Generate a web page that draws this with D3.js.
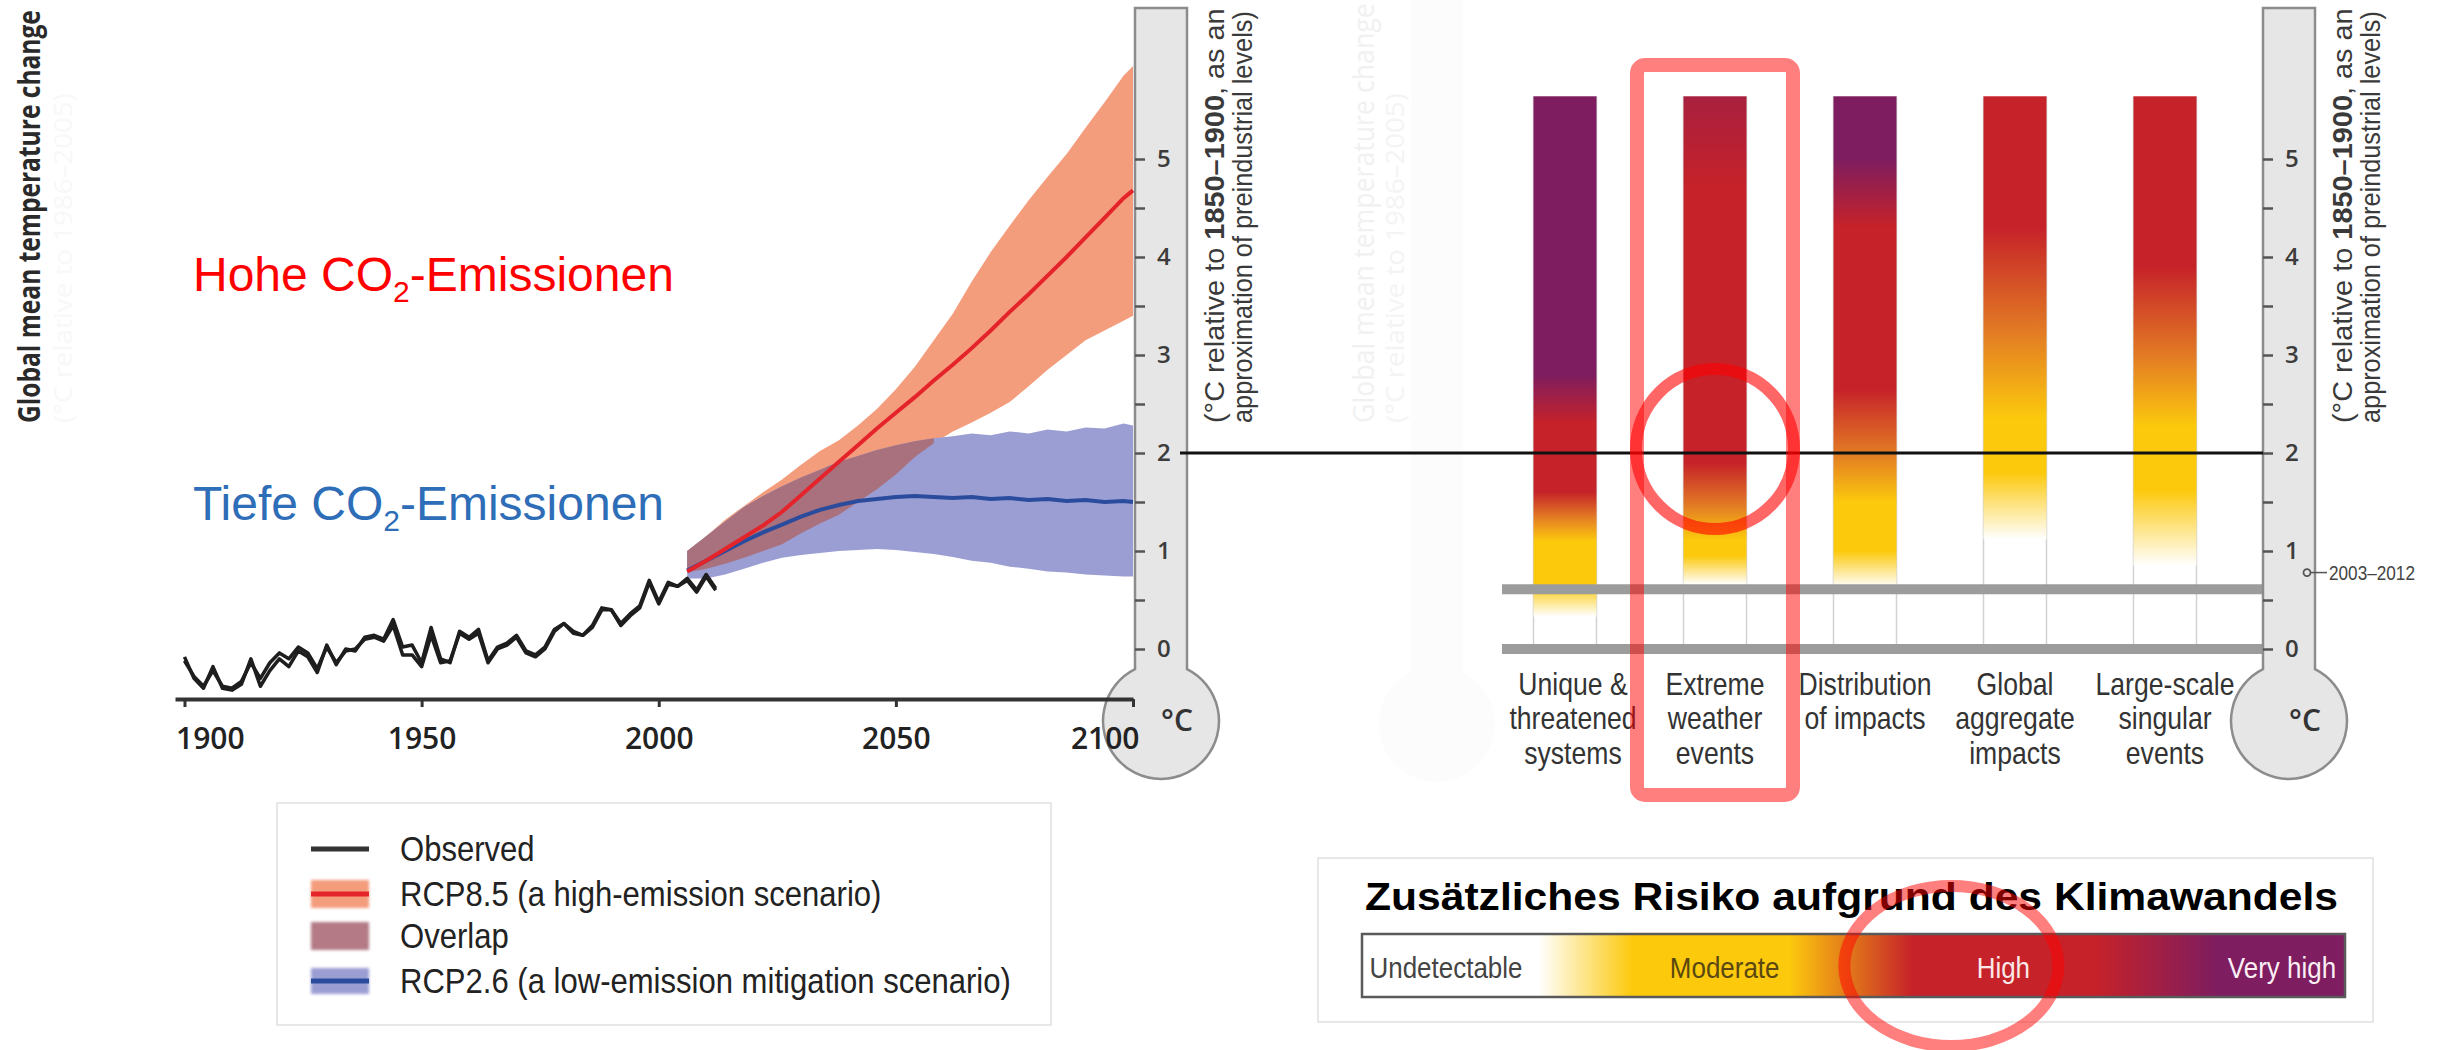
<!DOCTYPE html>
<html>
<head>
<meta charset="utf-8">
<script src="https://cdn.jsdelivr.net/npm/d3@7"></script>
<style>
  body { margin: 0; background: #fff; }
  .sans { font-family: "Liberation Sans", Arial, sans-serif; }
  .open { font-family: "Open Sans", "DejaVu Sans", sans-serif; }
</style>
</head>
<body>
<div class="chart"></div>
<script>
// observed global mean temperature (two data sets), °C relative to 1850-1900
const obsYears = [1900,1902,1904,1906,1908,1910,1912,1914,1916,1918,1920,1922,1924,1926,1928,1930,1932,1934,1936,1938,
  1940,1942,1944,1946,1948,1950,1952,1954,1956,1958,1960,1962,1964,1966,1968,1970,1972,1974,1976,1978,
  1980,1982,1984,1986,1988,1990,1992,1994,1996,1998,2000,2002,2004,2006,2008,2010,2012]
const observedA = [-0.08,-0.30,-0.40,-0.18,-0.40,-0.42,-0.36,-0.10,-0.38,-0.22,-0.10,-0.18,-0.02,-0.08,-0.24,0.04,-0.16,0.00,-0.02,0.12,
  0.14,0.10,0.30,0.02,0.04,-0.14,0.22,-0.10,-0.14,0.18,0.12,0.20,-0.12,0.02,0.06,0.14,-0.02,-0.06,0.02,0.20,
  0.26,0.18,0.14,0.24,0.42,0.40,0.26,0.36,0.44,0.70,0.48,0.68,0.64,0.72,0.60,0.76,0.62]
const observedB = [-0.12,-0.28,-0.38,-0.22,-0.38,-0.40,-0.33,-0.14,-0.30,-0.14,-0.04,-0.10,0.02,-0.04,-0.20,0.02,-0.14,-0.02,0.00,0.10,
  0.12,0.08,0.24,-0.06,-0.06,-0.18,0.14,-0.14,-0.12,0.16,0.10,0.16,-0.14,0.00,0.04,0.12,-0.04,-0.08,0.00,0.18,
  0.26,0.16,0.14,0.22,0.40,0.40,0.24,0.34,0.42,0.68,0.46,0.66,0.64,0.70,0.58,0.74,0.60]

// projections
const scenYears = [2006,2010,2014,2018,2022,2026,2030,2034,2038,2042,2046,2050,2054,2058,2062,2066,2070,2074,2078,2082,2086,2090,2094,2098,2100]
const rcp85Mean = [0.79,0.90,1.02,1.14,1.26,1.40,1.57,1.74,1.91,2.08,2.25,2.41,2.57,2.74,2.90,3.07,3.25,3.44,3.62,3.81,4.00,4.20,4.40,4.60,4.68]
const rcp85Low  = [0.78,0.82,0.87,0.93,1.00,1.07,1.18,1.28,1.37,1.50,1.63,1.78,1.96,2.10,2.22,2.31,2.41,2.52,2.68,2.85,3.00,3.15,3.25,3.35,3.40]
const rcp85High = [1.00,1.15,1.32,1.46,1.60,1.73,1.88,2.02,2.13,2.28,2.45,2.65,2.88,3.15,3.42,3.75,4.05,4.32,4.58,4.82,5.05,5.32,5.58,5.85,5.95]
const rcp26Mean = [0.80,0.90,1.00,1.10,1.19,1.27,1.35,1.42,1.47,1.51,1.53,1.55,1.56,1.55,1.54,1.55,1.53,1.54,1.52,1.53,1.51,1.52,1.50,1.51,1.50]
const rcp26Low  = [0.72,0.72,0.76,0.82,0.88,0.93,0.96,0.98,1.00,1.01,1.02,1.01,0.99,0.97,0.94,0.90,0.88,0.84,0.82,0.79,0.78,0.76,0.75,0.74,0.74]
const rcp26High = [1.00,1.15,1.30,1.45,1.56,1.66,1.75,1.83,1.91,1.97,2.03,2.08,2.12,2.15,2.17,2.20,2.18,2.22,2.20,2.24,2.22,2.26,2.25,2.30,2.28]

const yearTicks = [1900, 1950, 2000, 2050, 2100]
const tempTicks = [0, 0.5, 1, 1.5, 2, 2.5, 3, 3.5, 4, 4.5, 5]
const legendLabels = ["Observed", "RCP8.5 (a high-emission scenario)", "Overlap", "RCP2.6 (a low-emission mitigation scenario)"]

// reasons for concern: [temperature, risk level] stops, top to bottom
const reasons = ["Unique & threatened systems", "Extreme weather events", "Distribution of impacts", "Global aggregate impacts", "Large-scale singular events"]
const reasonLines = [["Unique &", "threatened", "systems"], ["Extreme", "weather", "events"], ["Distribution", "of impacts"], ["Global", "aggregate", "impacts"], ["Large-scale", "singular", "events"]]
const riskStops = [
  [[5.64,3],[2.8,3],[2.3,2],[1.6,2],[1.35,1.5],[1.1,1],[0.65,1],[0.33,0]],
  [[5.64,2.4],[4.7,2],[1.9,2],[1.47,1.5],[1.12,1],[0.95,1],[0.66,0]],
  [[5.64,3],[5.0,3],[4.3,2],[2.65,2],[2.0,1.5],[1.5,1],[1.0,1],[0.63,0]],
  [[5.64,2],[4.3,2],[3.25,1.5],[2.35,1],[1.8,1],[1.12,0]],
  [[5.64,2],[3.9,2],[3.0,1.5],[2.27,1],[1.62,1],[0.85,0]]
]
const riskLevels = ["Undetectable", "Moderate", "High", "Very high"]
const riskValues = [0, 1, 1.5, 2, 3]
const riskColors = ["#ffffff", "#fcc90d", "#e27a24", "#c62229", "#7e1d5f"]
const legendStops = [[0, 0], [0.18, 0], [0.275, 1], [0.435, 1], [0.56, 2], [0.745, 2], [0.87, 3], [1, 3]]

const baseLevels = [0, 0.61]
const recentWarming = 0.78
const targetLevel = 2

const width = 2440
const height = 1050

const svg = d3.select(".chart").append("svg")
  .attr("width", width)
  .attr("height", height)
  .style("display", "block")

const defs = svg.append("defs")
defs.append("filter").attr("id", "soft")
  .append("feGaussianBlur").attr("stdDeviation", 1.6)

const x = d3.scaleLinear().domain([1898, 2100]).range([175, 1133])
const y = d3.scaleLinear().domain([0, 5]).range([649, 159])
const band = d3.scaleBand().domain(reasons).range([1490, 2240]).paddingInner(0.58).paddingOuter(0.29)
const risk = d3.scaleLinear().domain(riskValues).range(riskColors)

// squeeze a text horizontally (no condensed font installed) so that a reference node gets the wanted width
function squeeze(sel, ref, want) {
  const k = want / ref.getComputedTextLength()
  sel.each(function () {
    const ax = +this.getAttribute("x") || 0
    d3.select(this).attr("transform", `translate(${ax},0) scale(${k},1) translate(${-ax},0)`)
  })
}

// rotated text reading upwards, starting at (px, py), squeezed to a length
function upText(px, py, str, size, weight, color, len) {
  const t = svg.append("g").attr("transform", `translate(${px},${py}) rotate(-90)`)
    .append("text").attr("class", "open").attr("x", 0).attr("y", 0)
    .attr("font-size", size).attr("font-weight", weight).attr("fill", color)
    .text(str)
  squeeze(t, t.node(), len)
}

function thermoPath(cx, top, half, r, cy) {
  const neck = cy - Math.sqrt(r * r - half * half)
  return `M${cx - half},${neck} L${cx - half},${top} L${cx + half},${top} L${cx + half},${neck} A${r},${r} 0 1 1 ${cx - half},${neck} Z`
}

// faint background ghosts of the original figures
svg.append("path").attr("d", thermoPath(1437, -10, 26, 58, 724)).attr("fill", "#fcfcfc")
upText(1374, 423, "Global mean temperature change", 30, 400, "#f1f1f1", 420)
upText(1404, 423, "(°C relative to 1986–2005)", 26, 400, "#f4f4f4", 330)
upText(72, 423, "(°C relative to 1986–2005)", 26, 400, "#f8f8f8", 330)

// ---------- left: projections ----------
const areaOf = (lo, hi) => d3.area()
  .x((d, i) => x(scenYears[i]))
  .y0((d, i) => y(lo[i]))
  .y1((d, i) => y(hi[i]))

svg.append("path").datum(scenYears).attr("fill", "#f49d7d").attr("d", areaOf(rcp85Low, rcp85High))
svg.append("path").datum(scenYears).attr("fill", "#9b9ed3").attr("d", areaOf(rcp26Low, rcp26High))

const ovLow = scenYears.map((d, i) => Math.max(rcp85Low[i], rcp26Low[i]))
const ovHigh = scenYears.map((d, i) => Math.min(rcp85High[i], rcp26High[i]))
svg.append("path").datum(scenYears).attr("fill", "#a8717d")
  .attr("d", areaOf(ovLow, ovHigh).defined((d, i) => ovLow[i] < ovHigh[i]))

const lineOf = vals => d3.line()
  .x((d, i) => x(scenYears[i]))
  .y((d, i) => y(vals[i]))

svg.append("path").datum(scenYears).attr("fill", "none").attr("stroke", "#2b4c9c").attr("stroke-width", 4)
  .attr("d", lineOf(rcp26Mean))
svg.append("path").datum(scenYears).attr("fill", "none").attr("stroke", "#e5232b").attr("stroke-width", 4)
  .attr("d", lineOf(rcp85Mean))

const obsLine = vals => d3.line()
  .x((d, i) => x(obsYears[i]))
  .y((d, i) => y(vals[i]))
svg.selectAll(".obs")
  .data([observedB, observedA])
  .enter()
  .append("path")
  .attr("class", "obs")
  .attr("fill", "none")
  .attr("stroke", "#1e1e1e")
  .attr("stroke-width", 3.5)
  .attr("stroke-linejoin", "round")
  .attr("d", d => obsLine(d)(obsYears))

// y axis title
upText(40, 423, "Global mean temperature change", 30, 700, "#2a2a2a", 413)

// scenario labels
function co2Label(text, color, baseY) {
  const t = svg.append("text").attr("class", "sans")
    .attr("x", 193).attr("y", baseY).attr("font-size", 48).attr("fill", color)
  t.append("tspan").text(text + " CO")
  t.append("tspan").attr("font-size", 30).attr("dy", 11).text("2")
  t.append("tspan").attr("dy", -11).text("-Emissionen")
}
co2Label("Hohe", "#ff0000", 291)
co2Label("Tiefe", "#2e6db7", 520)

// ---------- right: reasons for concern ----------
riskStops.forEach((stops, i) => {
  const top = stops[0][0]
  const bottom = stops[stops.length - 1][0]
  const grad = defs.append("linearGradient")
    .attr("id", "rfc" + i)
    .attr("gradientUnits", "userSpaceOnUse")
    .attr("x1", 0).attr("x2", 0)
    .attr("y1", y(top)).attr("y2", y(bottom))
  grad.selectAll("stop")
    .data(stops)
    .enter()
    .append("stop")
    .attr("offset", d => (y(d[0]) - y(top)) / (y(bottom) - y(top)))
    .attr("stop-color", d => risk(d[1]))
})

// thin guide lines at bar edges
svg.selectAll(".guide")
  .data(reasons.flatMap(r => [band(r), band(r) + band.bandwidth()]))
  .enter()
  .append("line")
  .attr("class", "guide")
  .attr("x1", d => d).attr("x2", d => d)
  .attr("y1", y(riskStops[0][0][0])).attr("y2", y(0))
  .attr("stroke", "#d2d2d2").attr("stroke-width", 1.5)

svg.selectAll(".rfc")
  .data(reasons)
  .enter()
  .append("rect")
  .attr("class", "rfc")
  .attr("x", d => band(d))
  .attr("width", band.bandwidth())
  .attr("y", (d, i) => y(riskStops[i][0][0]))
  .attr("height", (d, i) => y(riskStops[i][riskStops[i].length - 1][0]) - y(riskStops[i][0][0]))
  .attr("fill", (d, i) => `url(#rfc${i})`)

svg.selectAll(".base")
  .data(baseLevels)
  .enter()
  .append("line")
  .attr("class", "base")
  .attr("x1", 1502).attr("x2", 2263)
  .attr("y1", d => y(d)).attr("y2", d => y(d))
  .attr("stroke", "#9c9c9c").attr("stroke-width", 10)

const labels = svg.selectAll(".rfc-label")
  .data(reasons)
  .enter()
  .append("text")
  .attr("class", "sans rfc-label")
  .attr("x", (d, i) => band(d) + band.bandwidth() / 2 + (i === 0 ? 8 : 0))
  .attr("text-anchor", "middle")
  .attr("font-size", 32)
  .attr("fill", "#333")
labels.selectAll("tspan")
  .data((d, i) => reasonLines[i].map(l => ({ l, c: band(d) + band.bandwidth() / 2 + (i === 0 ? 8 : 0) })))
  .enter()
  .append("tspan")
  .attr("x", d => d.c)
  .attr("y", (d, j) => 695 + j * 34.5)
  .text(d => d.l)
squeeze(labels, labels.selectAll("tspan").filter(d => d.l === "Distribution").node(), 133)

// thermometers
function thermometer(cx, withNote) {
  const g = svg.append("g")
  g.append("path")
    .attr("d", thermoPath(cx, 8, 26, 58, 721))
    .attr("fill", "#e6e6e6")
    .attr("stroke", "#8c8c8c")
    .attr("stroke-width", 2.5)
  const ax = g.append("g")
    .attr("transform", `translate(${cx - 26},0)`)
    .call(d3.axisRight(y).tickValues(tempTicks).tickSize(10).tickPadding(12)
      .tickFormat(d => Number.isInteger(d) ? d : ""))
  ax.select(".domain").remove()
  ax.selectAll(".tick line").attr("stroke", "#555").attr("stroke-width", 2.5)
  ax.selectAll(".tick text").attr("class", "open").attr("font-size", 24).attr("font-weight", 600).attr("fill", "#3c3c3c")
  g.append("text").attr("class", "open")
    .attr("x", cx + 16).attr("y", 731)
    .attr("text-anchor", "middle")
    .attr("font-size", 30).attr("font-weight", 600).attr("fill", "#333")
    .text("°C")
  const note = g.append("g").attr("transform", `translate(${cx + 91},423) rotate(-90)`)
  const l1 = note.append("text").attr("class", "sans").attr("x", 0).attr("y", -28)
    .attr("font-size", 28).attr("fill", "#3a3a3a")
  l1.append("tspan").text("(°C relative to ")
  l1.append("tspan").attr("font-weight", 700).text("1850–1900")
  l1.append("tspan").text(", as an")
  squeeze(l1, l1.node(), 415)
  const l2 = note.append("text").attr("class", "sans").attr("x", 0).attr("y", 0)
    .attr("font-size", 28).attr("fill", "#3a3a3a")
    .text("approximation of preindustrial levels)")
  squeeze(l2, l2.node(), 412)
  if (withNote) {
    const ny = y(recentWarming)
    g.append("circle").attr("cx", cx + 18).attr("cy", ny).attr("r", 3.5)
      .attr("fill", "none").attr("stroke", "#555").attr("stroke-width", 1.8)
    g.append("line").attr("x1", cx + 22).attr("x2", cx + 38).attr("y1", ny).attr("y2", ny)
      .attr("stroke", "#555").attr("stroke-width", 1.5)
    const nt = g.append("text").attr("class", "sans")
      .attr("x", cx + 40).attr("y", ny + 7)
      .attr("font-size", 21).attr("fill", "#444")
      .text("2003–2012")
    squeeze(nt, nt.node(), 86)
  }
}

thermometer(1161, false)
thermometer(2289, true)

// x axis (drawn over the bulb, as in the original)
const xAxis = svg.append("g")
  .attr("transform", "translate(0,699)")
  .call(d3.axisBottom(x).tickValues(yearTicks).tickSize(8).tickSizeOuter(0).tickPadding(21).tickFormat(d3.format("d")))
xAxis.select(".domain").attr("stroke", "#333").attr("stroke-width", 4)
xAxis.selectAll(".tick line").attr("stroke", "#333").attr("stroke-width", 3)
xAxis.selectAll(".tick text")
  .attr("class", "open")
  .attr("font-size", 30)
  .attr("font-weight", 600)
  .attr("fill", "#222")
  .attr("text-anchor", (d, i) => i === 0 ? "start" : i === yearTicks.length - 1 ? "end" : "middle")
  .attr("dx", (d, i) => i === 0 ? -9 : i === yearTicks.length - 1 ? 6 : 0)

// 2 °C line
svg.append("line")
  .attr("x1", 1180).attr("x2", 2263)
  .attr("y1", y(targetLevel)).attr("y2", y(targetLevel))
  .attr("stroke", "#111").attr("stroke-width", 3)

// ---------- legends ----------
function legendBox(x0, y0, x1, y1) {
  svg.append("rect").attr("x", x0).attr("y", y0).attr("width", x1 - x0).attr("height", y1 - y0)
    .attr("fill", "#fff").attr("stroke", "#e0e0e0").attr("stroke-width", 1.5)
  svg.selectAll(null).data([y0, y1]).enter().append("line")
    .attr("x1", x0).attr("x2", x1).attr("y1", d => d).attr("y2", d => d)
    .attr("stroke", "#c6c6c6").attr("stroke-width", 6).attr("filter", "url(#soft)")
}

legendBox(277, 803, 1051, 1025)
const legendY = [849, 894, 936, 981]
const lg = svg.selectAll(".lg")
  .data(legendLabels)
  .enter()
  .append("g")
  .attr("class", "lg")
  .attr("transform", (d, i) => `translate(311,${legendY[i]})`)
lg.filter((d, i) => i === 1).append("rect").attr("y", -14).attr("width", 58).attr("height", 28).attr("fill", "#f49d7d").attr("filter", "url(#soft)")
lg.filter((d, i) => i === 2).append("rect").attr("y", -14).attr("width", 58).attr("height", 28).attr("fill", "#b47a86").attr("filter", "url(#soft)")
lg.filter((d, i) => i === 3).append("rect").attr("y", -13).attr("width", 58).attr("height", 26).attr("fill", "#9b9ed3").attr("filter", "url(#soft)")
lg.filter((d, i) => i !== 2).append("line")
  .attr("x1", 0).attr("x2", 58)
  .attr("stroke", (d, i) => ["#333", "#e5232b", "#2b4c9c"][i])
  .attr("stroke-width", 5)
const lgText = lg.append("text")
  .attr("class", "sans")
  .attr("x", 89)
  .attr("y", 12)
  .attr("font-size", 35)
  .attr("fill", "#222")
  .text(d => d)
squeeze(lgText, lgText.filter((d, i) => i === 3).node(), 611)

legendBox(1318, 858, 2373, 1022)
svg.append("text").attr("class", "sans")
  .attr("x", 1365).attr("y", 910)
  .attr("font-size", 39).attr("font-weight", 700).attr("fill", "#000")
  .attr("textLength", 973).attr("lengthAdjust", "spacingAndGlyphs")
  .text("Zusätzliches Risiko aufgrund des Klimawandels")

const lgGrad = defs.append("linearGradient").attr("id", "riskScale")
lgGrad.selectAll("stop")
  .data(legendStops)
  .enter()
  .append("stop")
  .attr("offset", d => d[0])
  .attr("stop-color", d => risk(d[1]))
svg.append("rect")
  .attr("x", 1362).attr("y", 934).attr("width", 983).attr("height", 63)
  .attr("fill", "url(#riskScale)")
  .attr("stroke", "#5a5a5a").attr("stroke-width", 2.5)

const riskX = d3.scalePoint().domain(riskLevels).range([1446, 2282])
const riskText = svg.selectAll(".risk-label")
  .data(riskLevels)
  .enter()
  .append("text")
  .attr("class", "sans risk-label")
  .attr("x", d => riskX(d))
  .attr("y", 978)
  .attr("text-anchor", "middle")
  .attr("font-size", 29)
  .attr("fill", (d, i) => ["#444", "#5a4810", "#fbe8e8", "#fbeef5"][i])
  .text(d => d)
squeeze(riskText, riskText.node(), 153)

// ---------- highlight annotations ----------
const ext = band("Extreme weather events") + band.bandwidth() / 2
svg.append("rect")
  .attr("x", ext - 78).attr("y", 65).attr("width", 156).attr("height", 730)
  .attr("rx", 8)
  .attr("fill", "none").attr("stroke", "rgba(255,0,0,0.5)").attr("stroke-width", 14)
svg.append("ellipse")
  .attr("cx", ext).attr("cy", y(targetLevel) - 4).attr("rx", 79).attr("ry", 80)
  .attr("fill", "none").attr("stroke", "rgba(255,0,0,0.6)").attr("stroke-width", 12)
svg.append("ellipse")
  .attr("cx", riskX("High") - 52).attr("cy", 966).attr("rx", 107).attr("ry", 80)
  .attr("fill", "none").attr("stroke", "rgba(255,0,0,0.5)").attr("stroke-width", 12)
</script>
</body>
</html>
